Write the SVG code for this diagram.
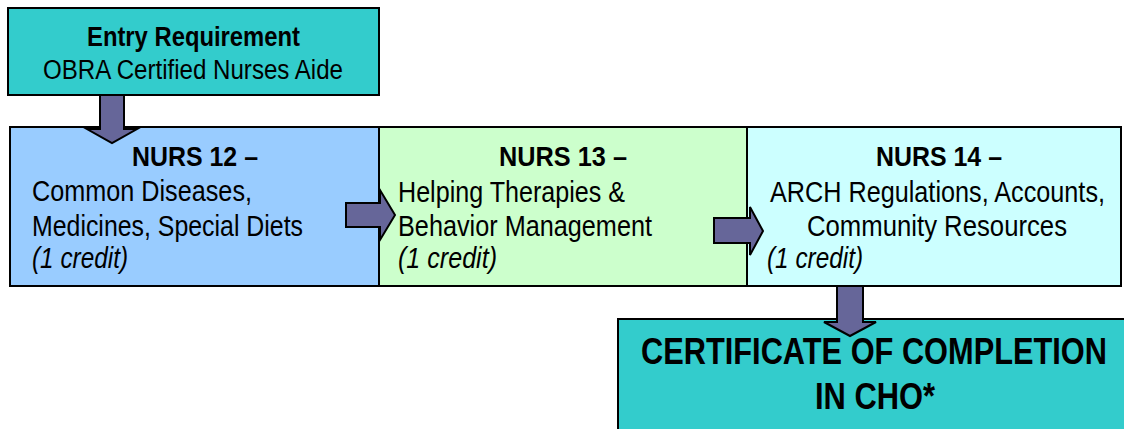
<svg xmlns="http://www.w3.org/2000/svg" width="1124" height="429" viewBox="0 0 1124 429">
  <style>
    .box { stroke: #000; stroke-width: 2; }
    .teal { fill: #33CCCC; }
    .blue { fill: #99CCFF; }
    .green { fill: #CCFFCC; }
    .cyan { fill: #CCFFFF; }
    .arrow { fill: #666699; stroke: #000; stroke-width: 2; stroke-linejoin: miter; }
    text { font-family: "Liberation Sans", Arial, sans-serif; fill: #000; }
    .t { font-size: 29px; }
    .ttl { font-size: 28px; font-weight: bold; }
    .b { font-weight: bold; }
    .i { font-style: italic; }
    .head { font-size: 27px; }
    .big { font-size: 37px; font-weight: bold; }
    .mid { text-anchor: middle; }
  </style>

  <rect width="1124" height="429" fill="#fff"/>

  <g id="entry">
    <rect class="box teal" x="8" y="8" width="371" height="87"/>
    <text class="head b mid" x="193.5" y="46" textLength="213" lengthAdjust="spacingAndGlyphs">Entry Requirement</text>
    <text class="head mid" x="193" y="79" textLength="300" lengthAdjust="spacingAndGlyphs">OBRA Certified Nurses Aide</text>
  </g>

  <g id="nurs12">
    <rect class="box blue" x="10" y="127" width="369" height="159"/>
    <text class="ttl mid" x="195" y="166" textLength="126" lengthAdjust="spacingAndGlyphs">NURS 12 –</text>
    <text class="t" x="32" y="201" textLength="220" lengthAdjust="spacingAndGlyphs">Common Diseases,</text>
    <text class="t" x="32" y="236" textLength="271" lengthAdjust="spacingAndGlyphs">Medicines, Special Diets</text>
    <text class="t i" x="32" y="268" textLength="96" lengthAdjust="spacingAndGlyphs">(1 credit)</text>
  </g>

  <g id="nurs13">
    <rect class="box green" x="379" y="127" width="368" height="159"/>
    <text class="ttl mid" x="563" y="166" textLength="128" lengthAdjust="spacingAndGlyphs">NURS 13 –</text>
    <text class="t" x="398" y="202" textLength="227" lengthAdjust="spacingAndGlyphs">Helping Therapies &amp;</text>
    <text class="t" x="398" y="236" textLength="254" lengthAdjust="spacingAndGlyphs">Behavior Management</text>
    <text class="t i" x="398" y="268" textLength="99" lengthAdjust="spacingAndGlyphs">(1 credit)</text>
  </g>

  <g id="nurs14">
    <rect class="box cyan" x="747" y="127" width="374" height="159"/>
    <text class="ttl mid" x="939" y="166" textLength="126" lengthAdjust="spacingAndGlyphs">NURS 14 –</text>
    <text class="t mid" x="937.5" y="202" textLength="335" lengthAdjust="spacingAndGlyphs">ARCH Regulations, Accounts,</text>
    <text class="t mid" x="937" y="236" textLength="260" lengthAdjust="spacingAndGlyphs">Community Resources</text>
    <text class="t i" x="767" y="268" textLength="96" lengthAdjust="spacingAndGlyphs">(1 credit)</text>
  </g>

  <g id="certificate">
    <rect class="box teal" x="618" y="319" width="520" height="120"/>
    <text class="big mid" x="874" y="364" textLength="466" lengthAdjust="spacingAndGlyphs">CERTIFICATE OF COMPLETION</text>
    <text class="big mid" x="875" y="409" textLength="120" lengthAdjust="spacingAndGlyphs">IN CHO*</text>
  </g>

  <g id="connectors">
    <!-- entry down to NURS 12 -->
    <polygon class="arrow" points="100,95 124,95 124,129 137,129 112,143 87,129 100,129"/>
    <!-- NURS 12 to NURS 13 -->
    <polygon class="arrow" points="346,203 380,203 380,190 395,215 380,240 380,227 346,227"/>
    <!-- NURS 13 to NURS 14 -->
    <polygon class="arrow" points="714,218 750,218 750,207 763,231 750,255 750,243 714,243"/>
    <!-- NURS 14 down to certificate -->
    <polygon class="arrow" points="837,286 863,286 863,322 876,322 850,336 824,322 837,322"/>
  </g>
</svg>
